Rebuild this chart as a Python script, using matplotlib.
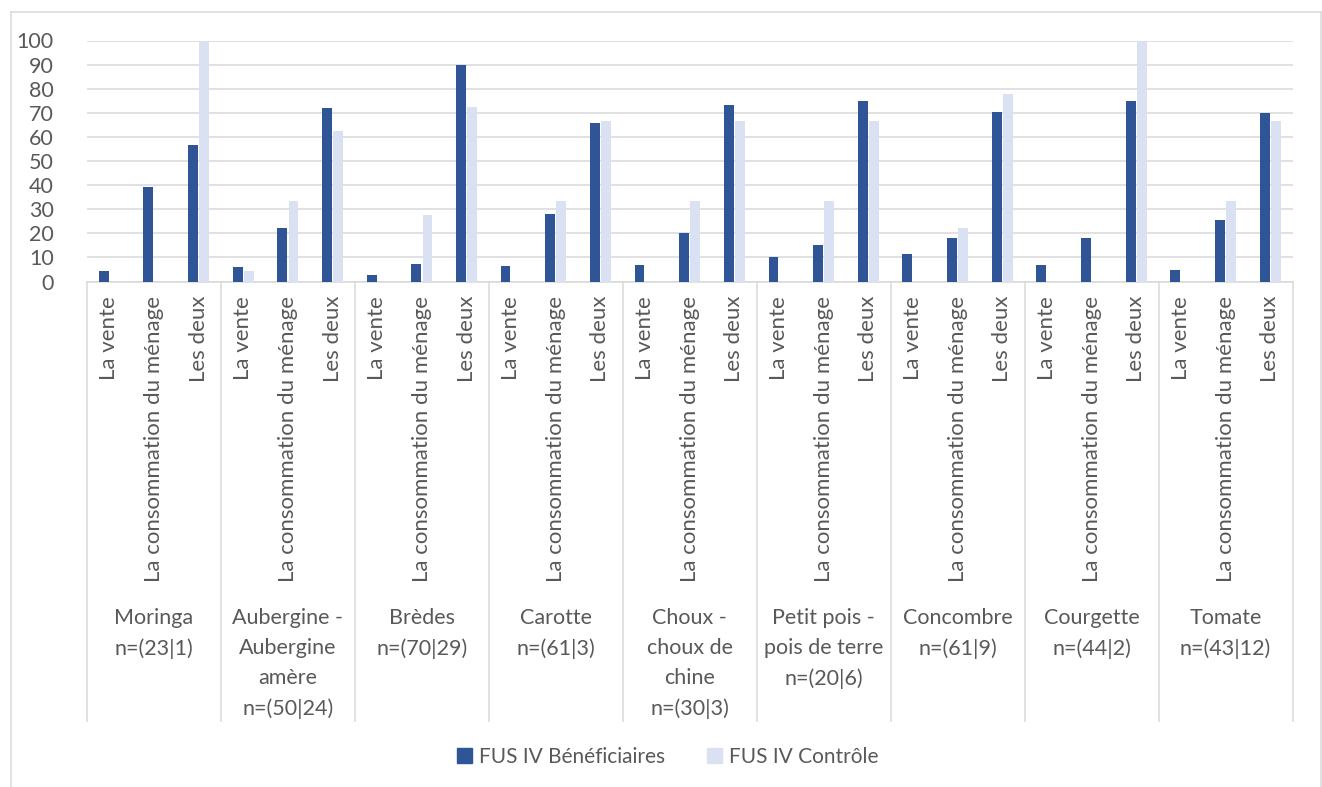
import matplotlib.pyplot as plt
import matplotlib.transforms as mtransforms
from matplotlib.patches import Patch

# produits et effectifs (bénéficiaires | contrôle)
produits = ['Moringa\nn=(23|1)', 'Aubergine -\nAubergine\namère\nn=(50|24)',
            'Brèdes\nn=(70|29)', 'Carotte\nn=(61|3)',
            'Choux -\nchoux de\nchine\nn=(30|3)',
            'Petit pois -\npois de terre\nn=(20|6)', 'Concombre\nn=(61|9)',
            'Courgette\nn=(44|2)', 'Tomate\nn=(43|12)']
usages = ['La vente', 'La consommation du ménage', 'Les deux']

beneficiaires = [4.3, 39.1, 56.5,
                 6.0, 22.0, 72.0,
                 2.9, 7.1, 90.0,
                 6.6, 27.9, 65.6,
                 6.7, 20.0, 73.3,
                 10.0, 15.0, 75.0,
                 11.5, 18.0, 70.5,
                 6.8, 18.2, 75.0,
                 4.7, 25.6, 69.8]
controle = [0, 0, 100,
            4.2, 33.3, 62.5,
            0, 27.6, 72.4,
            0, 33.3, 66.7,
            0, 33.3, 66.7,
            0, 33.3, 66.7,
            0, 22.2, 77.8,
            0, 0, 100,
            0, 33.3, 66.7]

W, H = 1322, 787
plt.rcParams['font.family'] = ['Lato', 'DejaVu Sans']
grey_txt = '#595959'
grey_line = '#D9D9D9'
fs = 15.5

fig = plt.figure(figsize=(W / 100, H / 100), dpi=100)
ax = fig.add_axes([87 / W, 1 - 281.5 / H, (1292.5 - 87) / W, (281.5 - 40.5) / H])

n = len(beneficiaires)
x = list(range(n))
bw = 0.22
ax.bar([i - 0.125 for i in x], beneficiaires, bw, color='#2F5597', zorder=3)
ax.bar([i + 0.125 for i in x], controle, bw, color='#DAE1F3', zorder=3)

ax.set_xlim(-0.5, n - 0.5)
ax.set_ylim(0, 100)
ax.set_yticks(range(0, 101, 10))
ax.yaxis.grid(True, color=grey_line, linewidth=1.1, zorder=0)
ax.tick_params(axis='y', length=0, pad=24, labelsize=fs, labelcolor=grey_txt)
ax.set_xticks([])
for s in ['top', 'right', 'left']:
    ax.spines[s].set_visible(False)
ax.spines['bottom'].set_color(grey_line)
ax.spines['bottom'].set_linewidth(1.1)

# axe des catégories à deux niveaux
blend = mtransforms.blended_transform_factory(ax.transData, fig.transFigure)
def fy(py):
    return 1 - py / H

for i in x:
    ax.text(i, fy(296), usages[i % 3], rotation=90, ha='center', va='top',
            fontsize=16, color=grey_txt, transform=blend)
for g, nom in enumerate(produits):
    ax.text(3 * g + 1, fy(608), nom, ha='center', va='top', fontsize=fs,
            color=grey_txt, linespacing=1.62, multialignment='center',
            transform=blend)
for g in range(len(produits) + 1):
    xb = 3 * g - 0.5
    ax.plot([xb, xb], [fy(282), fy(721)], color=grey_line, linewidth=1.1,
            transform=blend, clip_on=False)

# cadre du graphique
fig.add_artist(plt.Line2D([10.5 / W, 10.5 / W], [0, fy(12)], color=grey_line, lw=1.1))
fig.add_artist(plt.Line2D([10.5 / W, 1320.5 / W], [fy(12), fy(12)], color=grey_line, lw=1.1))
fig.add_artist(plt.Line2D([1320.5 / W, 1320.5 / W], [0, fy(12)], color=grey_line, lw=1.1))

handles = [Patch(color='#2F5597', label='FUS IV Bénéficiaires'),
           Patch(color='#DAE1F3', label='FUS IV Contrôle')]
fig.legend(handles=handles, loc='center', bbox_to_anchor=(668 / W, fy(757)),
           ncol=2, frameon=False, fontsize=15, labelcolor=grey_txt,
           handlelength=0.7, handleheight=0.7, handletextpad=0.35,
           columnspacing=2.0)

plt.savefig('out.png', dpi=100)
